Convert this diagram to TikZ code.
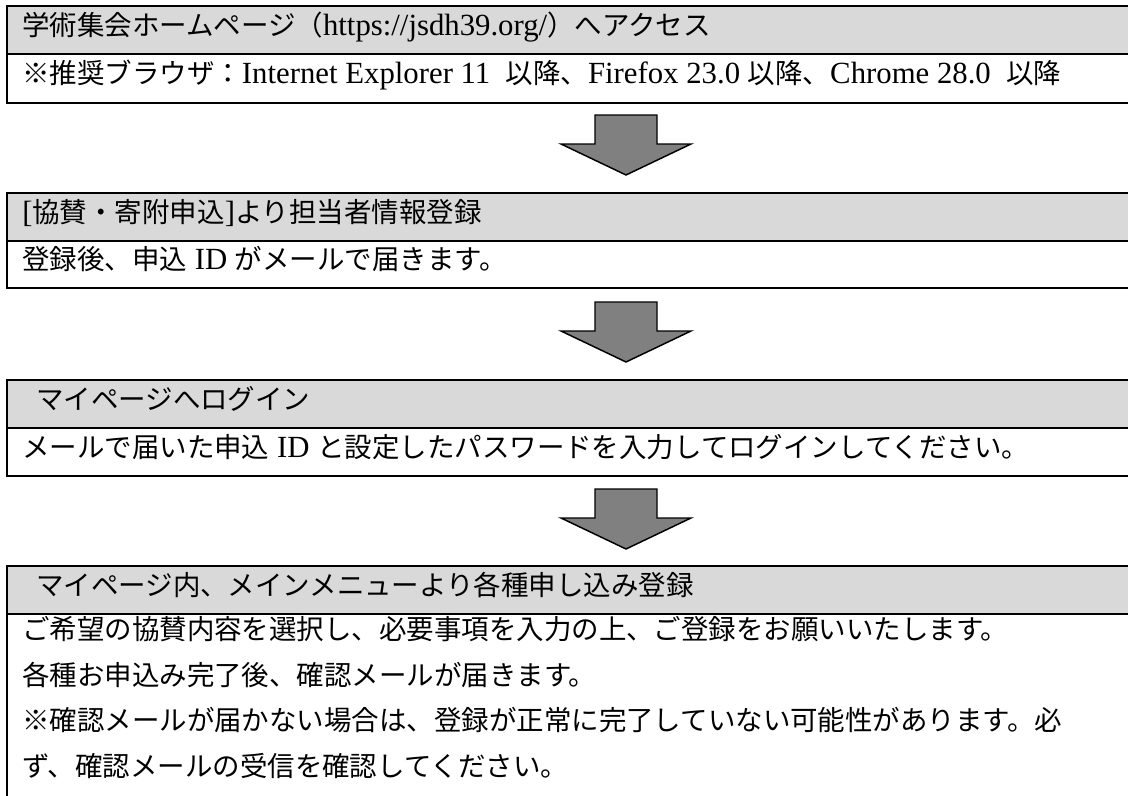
\documentclass[tikz,border=0pt]{standalone}
\usepackage{fontspec}
\setmainfont{Noto Sans CJK JP}
\newfontfamily\lat[Scale=1.12]{Liberation Serif}
\usetikzlibrary{fit}
\definecolor{hdrgray}{HTML}{D9D9D9}
\definecolor{arrowgray}{HTML}{808080}
\tikzset{
  hdrbox/.style={draw=black, line width=2.2pt, fill=hdrgray, inner sep=0pt},
  bodybox/.style={draw=black, line width=2.2pt, fill=white, inner sep=0pt},
  txt/.style={anchor=west, inner sep=0pt, text height=0.88em, text depth=0.12em,
    font=\fontsize{20.6pt}{24pt}\selectfont},
  blockarrow/.style={draw=black, line width=1.1pt, fill=arrowgray, line join=miter},
  bigarrow/.pic={\draw[blockarrow] (-31,0) -- (31,0) -- (31,29) -- (65,29) -- (0,60) -- (-65,29) -- (-31,29) -- cycle;}
}
\begin{document}
\begin{tikzpicture}[x=0.75pt,y=-0.75pt]
\useasboundingbox (0,0) rectangle (1128,796);
\clip (0,0) rectangle (1128,796);
% box 1
\node[hdrbox, fit={(7,6)(1140,54)}] (h1) {};
\node[bodybox, fit={(7,54)(1140,103)}] (b1) {};
\node[txt] (th1) at (22,30) {学術集会ホームページ（{\lat https://jsdh39.org/}）へアクセス};
\node[txt] (tb1) at (22,78) {※推奨ブラウザ：{\lat Internet Explorer 11 \ }以降、{\lat Firefox 23.0 }以降、{\lat Chrome 28.0 \ }以降};
% box 2
\node[hdrbox, fit={(7,193)(1140,241)}] (h2) {};
\node[bodybox, fit={(7,241)(1140,288)}] (b2) {};
\node[txt] (th2) at (22,217) {{\lat [}協賛・寄附申込{\lat ]}より担当者情報登録};
\node[txt] (tb2) at (22,264) {登録後、申込{\lat\ ID }がメールで届きます。};
% box 3
\node[hdrbox, fit={(7,380)(1140,428)}] (h3) {};
\node[bodybox, fit={(7,428)(1140,476)}] (b3) {};
\node[txt] (th3) at (36,404) {マイページへログイン};
\node[txt] (tb3) at (22,452) {メールで届いた申込{\lat\ ID }と設定したパスワードを入力してログインしてください。};
% box 4
\node[hdrbox, fit={(7,566)(1140,614)}] (h4) {};
\node[bodybox, fit={(7,614)(1140,810)}] (b4) {};
\node[txt] (th4) at (36,590) {マイページ内、メインメニューより各種申し込み登録};
\node[txt] (tb4a) at (22,634) {ご希望の協賛内容を選択し、必要事項を入力の上、ご登録をお願いいたします。};
\node[txt] (tb4b) at (22,680) {各種お申込み完了後、確認メールが届きます。};
\node[txt] (tb4c) at (22,725) {※確認メールが届かない場合は、登録が正常に完了していない可能性があります。必};
\node[txt] (tb4d) at (22,771) {ず、確認メールの受信を確認してください。};
% arrows
\pic at (626,115) {bigarrow};
\pic at (626,302) {bigarrow};
\pic at (626,489) {bigarrow};
\end{tikzpicture}
\end{document}
